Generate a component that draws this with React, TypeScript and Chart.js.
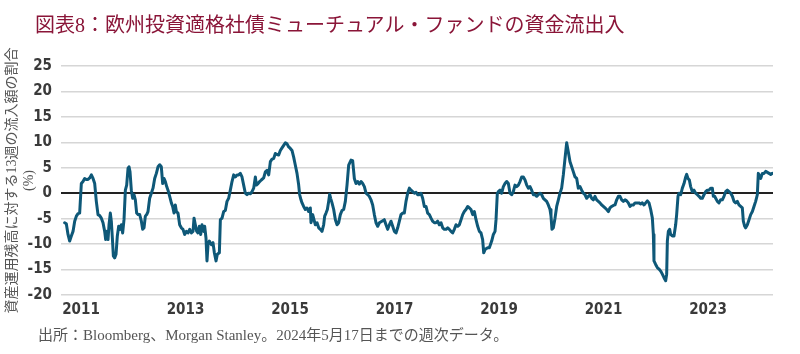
import React, { useEffect, useRef } from 'react';
import { Chart, registerables } from 'chart.js';

Chart.register(...registerables);

const TITLE = '図表8：欧州投資適格社債ミューチュアル・ファンドの資金流出入';
const Y_TITLE = ['資産運用残高に対する13週の流入額の割合', '(%)'];
const SOURCE = '出所：Bloomberg、Morgan Stanley。2024年5月17日までの週次データ。';
const YEAR_TICKS = [2011, 2013, 2015, 2017, 2019, 2021, 2023];

// decimal years (weekly observations, sampled)
const DATES = [
  2010.687, 2010.719, 2010.751, 2010.783, 2010.815, 2010.847, 2010.879, 2010.911, 2010.943, 2010.974,
  2011.006, 2011.038, 2011.070, 2011.102, 2011.134, 2011.166, 2011.198, 2011.230, 2011.262, 2011.293,
  2011.325, 2011.357, 2011.389, 2011.421, 2011.453, 2011.472, 2011.498, 2011.517, 2011.536, 2011.561,
  2011.580, 2011.600, 2011.619, 2011.644, 2011.670, 2011.695, 2011.721, 2011.746, 2011.772, 2011.797,
  2011.823, 2011.849, 2011.874, 2011.900, 2011.919, 2011.938, 2011.963, 2011.989, 2012.014, 2012.040,
  2012.065, 2012.091, 2012.123, 2012.155, 2012.180, 2012.206, 2012.231, 2012.257, 2012.282, 2012.314,
  2012.346, 2012.378, 2012.410, 2012.442, 2012.474, 2012.506, 2012.537, 2012.563, 2012.588, 2012.614,
  2012.640, 2012.665, 2012.697, 2012.729, 2012.754, 2012.780, 2012.805, 2012.825, 2012.856, 2012.888,
  2012.920, 2012.952, 2012.984, 2013.016, 2013.048, 2013.080, 2013.112, 2013.144, 2013.163, 2013.188,
  2013.214, 2013.239, 2013.265, 2013.290,
  2013.316, 2013.348, 2013.367, 2013.392, 2013.411, 2013.431, 2013.456, 2013.494, 2013.526, 2013.552,
  2013.584, 2013.609, 2013.648, 2013.667, 2013.699, 2013.730, 2013.762, 2013.794, 2013.826, 2013.858,
  2013.890, 2013.922, 2013.954, 2013.986, 2014.018, 2014.049, 2014.081, 2014.113, 2014.145, 2014.177,
  2014.209, 2014.241, 2014.273, 2014.305, 2014.337, 2014.356, 2014.388, 2014.419, 2014.451, 2014.496,
  2014.528, 2014.560, 2014.592, 2014.624, 2014.656, 2014.687, 2014.719, 2014.751, 2014.783, 2014.815,
  2014.847, 2014.879, 2014.911, 2014.943, 2014.975, 2015.006, 2015.038, 2015.070, 2015.102, 2015.134,
  2015.166, 2015.185, 2015.210, 2015.230, 2015.261, 2015.293, 2015.325, 2015.357, 2015.389, 2015.402,
  2015.434, 2015.459, 2015.485, 2015.517, 2015.549, 2015.581, 2015.612, 2015.644, 2015.664, 2015.689,
  2015.715, 2015.740, 2015.759, 2015.778, 2015.804, 2015.836, 2015.868, 2015.900, 2015.931, 2015.963,
  2015.995, 2016.027, 2016.059, 2016.091, 2016.123,
  2016.168, 2016.199, 2016.231, 2016.263, 2016.295, 2016.327, 2016.359, 2016.391, 2016.423, 2016.455,
  2016.487, 2016.518, 2016.550, 2016.582, 2016.614, 2016.646, 2016.678, 2016.710, 2016.742, 2016.774,
  2016.805, 2016.837, 2016.869, 2016.901, 2016.933, 2016.965, 2016.997, 2017.029, 2017.061, 2017.093,
  2017.124, 2017.156, 2017.188, 2017.220, 2017.252, 2017.284, 2017.316, 2017.348, 2017.380, 2017.412,
  2017.443, 2017.475, 2017.507, 2017.539, 2017.571, 2017.603, 2017.635, 2017.667, 2017.699, 2017.730,
  2017.762, 2017.794, 2017.826, 2017.858, 2017.890, 2017.922, 2017.954, 2017.986, 2018.018, 2018.049,
  2018.081, 2018.113, 2018.145, 2018.177, 2018.209, 2018.241, 2018.273, 2018.305, 2018.336, 2018.368,
  2018.400, 2018.432, 2018.464, 2018.496, 2018.528, 2018.560, 2018.592, 2018.624, 2018.655, 2018.687,
  2018.707, 2018.738, 2018.783, 2018.815,
  2018.860, 2018.892, 2018.924, 2018.943, 2018.968, 2018.987, 2019.019, 2019.051, 2019.083, 2019.115,
  2019.147, 2019.179, 2019.211, 2019.242, 2019.274, 2019.306, 2019.338, 2019.370, 2019.402, 2019.434,
  2019.466, 2019.498, 2019.530, 2019.561, 2019.593, 2019.625, 2019.657, 2019.689, 2019.721, 2019.753,
  2019.785, 2019.817, 2019.849, 2019.880, 2019.912, 2019.944, 2019.976, 2019.995, 2020.014, 2020.040,
  2020.072, 2020.104, 2020.136, 2020.167, 2020.199, 2020.231, 2020.263, 2020.295, 2020.327, 2020.359,
  2020.391, 2020.423, 2020.455, 2020.487, 2020.518, 2020.550, 2020.582, 2020.614, 2020.646, 2020.678,
  2020.710, 2020.742, 2020.774, 2020.806, 2020.837, 2020.869, 2020.901, 2020.933, 2020.965, 2020.997,
  2021.029, 2021.061, 2021.093, 2021.124, 2021.156, 2021.188, 2021.220, 2021.252, 2021.284, 2021.316,
  2021.348, 2021.380, 2021.412, 2021.443, 2021.475, 2021.507, 2021.539, 2021.571, 2021.603, 2021.635,
  2021.679, 2021.711, 2021.743, 2021.775, 2021.807, 2021.839, 2021.871, 2021.903, 2021.935, 2021.954,
  2021.966, 2021.998, 2022.030, 2022.062, 2022.094, 2022.126, 2022.158, 2022.190, 2022.209, 2022.222,
  2022.241, 2022.266, 2022.285, 2022.317, 2022.349, 2022.381, 2022.400, 2022.426, 2022.445, 2022.477,
  2022.509, 2022.541, 2022.573, 2022.592, 2022.617, 2022.643, 2022.668, 2022.700, 2022.732, 2022.764,
  2022.796, 2022.828, 2022.860, 2022.891, 2022.923, 2022.955, 2022.987, 2023.019, 2023.051, 2023.083,
  2023.102, 2023.127, 2023.147, 2023.179, 2023.210, 2023.242, 2023.274, 2023.306, 2023.338, 2023.370,
  2023.402, 2023.434, 2023.466, 2023.498, 2023.529, 2023.561, 2023.593, 2023.625, 2023.657, 2023.676,
  2023.702, 2023.721, 2023.753, 2023.785, 2023.817, 2023.849, 2023.880, 2023.912, 2023.944, 2023.963,
  2023.995, 2024.008, 2024.040, 2024.072, 2024.104, 2024.136, 2024.168, 2024.200, 2024.231,
];

// 13-week inflows as % of AUM
const FLOWS = [
  -5.8, -6.0, -8.1, -9.4, -8.4, -7.5, -5.5, -4.5, -4.0, -3.9,
  1.9, 2.3, 2.9, 2.7, 2.7, 3.0, 3.6, 2.9, 1.9, -1.6,
  -4.2, -4.4, -4.9, -5.8, -7.5, -9.1, -7.5, -9.1, -6.2, -3.9,
  -5.5, -8.8, -12.3, -12.7, -12.0, -8.4, -6.5, -7.1, -6.2, -7.8,
  -5.2, 0.6, 1.6, 4.9, 5.2, 4.2, 0.6, -1.0, -0.3, -1.3,
  -3.9, -4.2, -4.2, -5.5, -7.1, -6.8, -4.5, -4.2, -3.6, -1.0,
  0.0, 1.0, 2.9, 3.9, 5.2, 5.6, 5.2, 1.9, 2.9, 2.3,
  1.3, 0.6, -0.6, -1.9, -2.6, -3.9, -2.3, -3.6, -3.9, -6.2,
  -6.8, -7.1, -8.1, -7.5, -7.8, -7.1, -7.8, -7.5, -4.9, -6.2,
  -7.5, -7.8, -6.5, -8.1,
  -6.2, -7.5, -6.5, -8.8, -13.3, -10.1, -9.4, -10.1, -9.7, -11.7,
  -13.3, -12.0, -11.7, -5.2, -4.9, -3.6, -3.4, -1.6, -1.0, 0.6,
  2.3, 3.6, 3.2, 3.6, 3.6, 3.9, 3.2, 1.6, 0.0, -0.3,
  0.0, -0.1, 0.3, 1.0, 3.2, 1.6, 1.9, 2.3, 2.6, 3.0,
  4.2, 4.5, 3.6, 6.2, 6.7, 6.8, 7.8, 7.6, 7.5, 8.4,
  8.9, 9.4, 9.9, 9.7, 9.1, 8.8, 8.4, 7.1, 5.5, 3.9,
  1.6, -0.3, -1.3, -1.9, -2.6, -3.2, -2.9, -3.6, -2.9, -5.8,
  -4.2, -5.2, -6.2, -5.8, -6.8, -7.1, -7.5, -6.2, -4.5, -3.9,
  -3.2, -1.6, -0.2, -1.0, -1.9, -3.2, -5.2, -6.2, -5.8, -4.2,
  -3.4, -3.2, -1.6, 1.6, 5.5,
  6.5, 6.4, 2.9, 1.9, 2.3, 1.8, 2.3, 1.9, 1.3, 0.0,
  -0.3, -0.6, -1.3, -2.3, -4.2, -5.8, -6.5, -5.8, -5.6, -5.4,
  -5.2, -6.2, -7.1, -6.2, -5.5, -6.5, -7.5, -7.8, -6.8, -5.5,
  -4.2, -3.9, -3.9, -1.6, 0.0, 1.0, 0.6, 0.3, 0.0, 0.2,
  -0.3, -0.3, 0.0, -1.0, -2.6, -2.6, -3.9, -4.2, -4.9, -5.5,
  -5.8, -5.8, -5.5, -6.2, -5.8, -6.8, -7.1, -7.1, -6.8, -7.1,
  -7.5, -7.8, -7.1, -6.2, -6.5, -6.2, -5.2, -4.2, -3.6, -3.2,
  -2.6, -2.9, -3.2, -4.2, -3.6, -5.2, -6.5, -7.5, -7.8, -9.1,
  -11.7, -11.0, -10.7, -10.7,
  -9.4, -8.1, -7.5, -5.2, 0.0, 0.3, 0.6, 0.0, 1.3, 1.9,
  2.3, 1.9, 0.0, -0.3, 0.3, 1.6, 1.3, 1.6, 2.3, 3.2,
  3.2, 2.6, 1.6, 1.0, 1.3, 0.6, -0.3, -0.3, -0.6, -0.3,
  0.0, -0.3, -1.0, -1.3, -1.6, -2.3, -3.2, -4.5, -7.1, -6.8,
  -4.9, -2.6, -1.3, 0.0, 1.0, 3.6, 6.8, 9.9, 8.1, 6.2,
  5.2, 4.2, 3.2, 2.9, 1.0, 1.3, 0.6, 0.0, -0.3, -1.0,
  -0.6, -0.3, -1.0, -1.3, -0.6, -1.3, -1.6, -1.9, -2.3, -2.6,
  -2.9, -3.2, -3.6, -2.9, -2.6, -2.4, -2.3, -1.3, -0.6, -0.6,
  -1.3, -1.6, -1.3, -1.5, -1.9, -2.6, -2.3, -2.3, -1.9, -1.9,
  -1.9, -2.1, -1.9, -2.3, -1.9, -1.5, -1.9, -3.2, -4.9, -8.1,
  -13.3, -14.0, -14.6, -14.9, -15.3, -15.9, -16.6, -17.2, -15.9, -9.4,
  -7.5, -7.1, -8.1, -8.4, -8.4, -6.2, -4.2, -0.6, 0.0, -0.3,
  1.0, 1.9, 3.2, 3.7, 2.9, 2.6, 1.3, 0.3, 0.6, 0.0,
  -0.3, -0.6, -1.0, -1.0, -0.3, 0.3, 0.6, 0.6, 1.0, 1.0,
  -0.6, -0.6, -1.0, -1.6, -1.9, -1.3, -1.3, -0.6, 0.3, 0.6,
  0.3, 0.0, -0.6, -1.6, -1.9, -1.6, -2.3, -2.6, -2.9, -5.5,
  -6.5, -6.8, -6.2, -5.2, -4.2, -3.6, -2.6, -1.6, -0.3, 3.9,
  3.2, 2.9, 3.9, 3.9, 4.3, 4.1, 3.9, 3.7, 3.9,
];

const TICK_FONT = "'Liberation Sans Narrow', 'DejaVu Sans Condensed', Roboto, sans-serif";
const JP_SERIF = "'Liberation Serif', 'Noto Sans CJK JP', serif";

export default function App() {
  const canvasRef = useRef<HTMLCanvasElement>(null);

  useEffect(() => {
    const canvas = canvasRef.current;
    if (!canvas) return;
    const chart = new Chart(canvas, {
      type: 'line',
      data: {
        datasets: [
          {
            data: DATES.map((d, i) => ({ x: d, y: FLOWS[i] })),
            borderColor: '#0e5878',
            borderWidth: 3,
            pointRadius: 0,
            tension: 0,
            borderJoinStyle: 'round',
            borderCapStyle: 'round',
            fill: false,
          },
        ],
      },
      options: {
        animation: false,
        responsive: false,
        devicePixelRatio: 1,
        layout: { padding: { left: 0, top: 66, right: 27, bottom: 0 } },
        plugins: { legend: { display: false }, tooltip: { enabled: false }, title: { display: false } },
        scales: {
          x: {
            type: 'linear',
            min: 2010.617,
            max: 2024.244,
            afterBuildTicks: (s: any) => {
              s.ticks = YEAR_TICKS.map((v) => ({ value: v }));
            },
            afterFit: (s: any) => {
              s.height = 59;
            },
            grid: { display: false, drawTicks: false },
            border: { display: false },
            ticks: {
              autoSkip: false,
              maxRotation: 0,
              padding: 6,
              color: '#3a3a3a',
              font: { family: TICK_FONT, size: 15, weight: 'bold' },
              callback: (v: any) => String(v),
            },
          },
          y: {
            min: -20,
            max: 25,
            afterFit: (s: any) => {
              s.width = 61;
            },
            grid: {
              drawTicks: false,
              color: (ctx: any) => (ctx.tick && ctx.tick.value === 0 ? '#222222' : '#d6d6d6'),
              lineWidth: (ctx: any) => (ctx.tick && ctx.tick.value === 0 ? 2 : 1.5),
            },
            border: { display: false },
            ticks: {
              stepSize: 5,
              padding: 9,
              color: '#3a3a3a',
              font: { family: TICK_FONT, size: 15, weight: 'bold' },
            },
            title: {
              display: true,
              text: Y_TITLE,
              color: '#555555',
              font: { family: JP_SERIF, size: 14 },
              padding: { top: 4, bottom: 0 },
            },
          },
        },
      },
    });
    return () => chart.destroy();
  }, []);

  return (
    <div style={{ position: 'fixed', left: 0, top: 0, width: 800, height: 354, background: '#ffffff', overflow: 'hidden' }}>
      <canvas ref={canvasRef} width={800} height={354} style={{ position: 'absolute', left: 0, top: 0, width: 800, height: 354 }} />
      <div
        style={{
          position: 'absolute',
          left: 35,
          top: 14,
          fontFamily: JP_SERIF,
          fontSize: 20,
          lineHeight: '22px',
          color: '#8a1538',
          whiteSpace: 'nowrap',
        }}
      >
        {TITLE}
      </div>
      <div
        style={{
          position: 'absolute',
          left: 38,
          top: 326,
          fontFamily: JP_SERIF,
          fontSize: 15,
          lineHeight: '19px',
          color: '#555555',
          whiteSpace: 'nowrap',
        }}
      >
        {SOURCE}
      </div>
    </div>
  );
}
